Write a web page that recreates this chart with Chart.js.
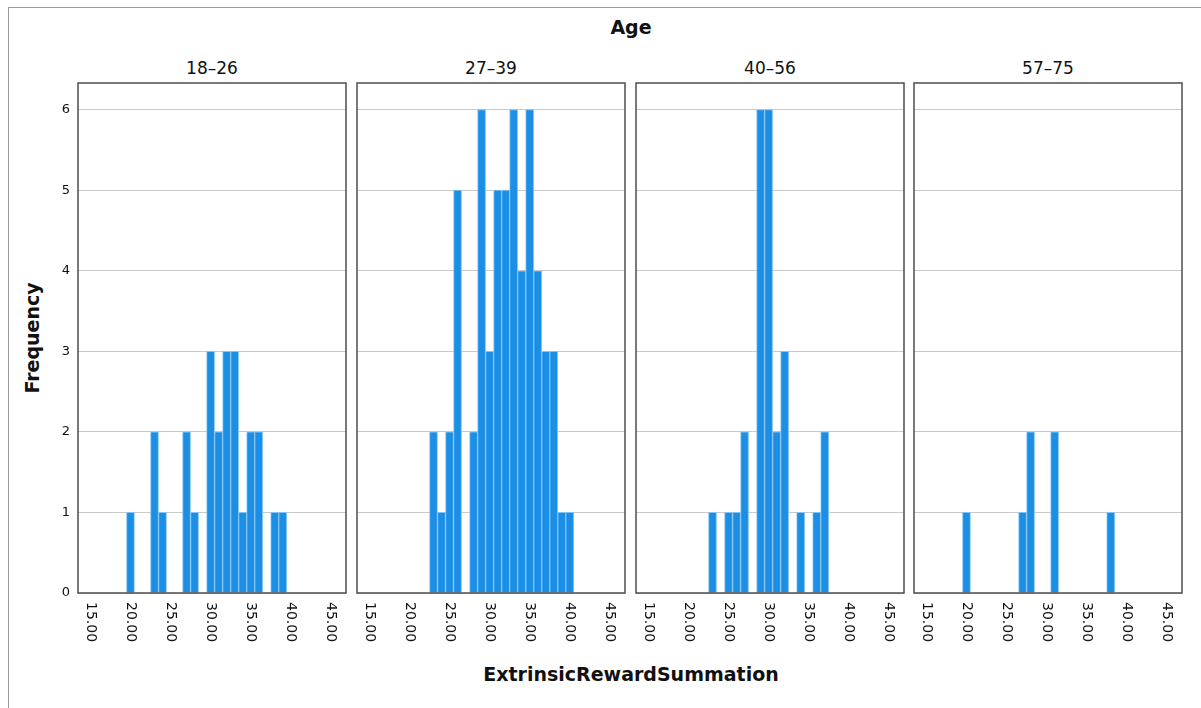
<!DOCTYPE html>
<html>
<head>
<meta charset="utf-8">
<script src="https://cdn.jsdelivr.net/npm/chart.js@4.4.1/dist/chart.umd.min.js"></script>
<style>
  html, body { margin: 0; padding: 0; background: #fff; overflow: hidden; }
  body { width: 1201px; height: 708px; position: relative; font-family: "DejaVu Sans", sans-serif; }
  .frame { position: absolute; left: 8px; top: 7px; width: 1400px; height: 900px; border-left: 1px solid #9a9a9a; border-top: 1px solid #9a9a9a; }
  .title { position: absolute; font-weight: bold; font-size: 19px; color: #111; white-space: nowrap; }
  .ptitle { position: absolute; font-size: 17px; color: #111; white-space: nowrap; transform: translateX(-50%); }
  .panel { position: absolute; }
</style>
</head>
<body>
<div class="frame"></div>
<div class="title" id="topTitle" style="left:631px; top:16px; transform:translateX(-50%);">Age</div>
<div class="title" id="yTitle" style="left:32px; top:338px; transform:translate(-50%,-50%) rotate(-90deg);">Frequency</div>
<div class="title" id="xTitle" style="left:631px; top:663px; transform:translateX(-50%);">ExtrinsicRewardSummation</div>

<script>
// ---- data ----
const panelLabels = ['18–26', '27–39', '40–56', '57–75'];

const score18to26 = [20, 23, 24, 27, 28, 30, 31, 32, 33, 34, 35, 36, 38, 39];
const freq18to26  = [1, 2, 1, 2, 1, 3, 2, 3, 3, 1, 2, 2, 1, 1];

const score27to39 = [23, 24, 25, 26, 28, 29, 30, 31, 32, 33, 34, 35, 36, 37, 38, 39, 40];
const freq27to39  = [2, 1, 2, 5, 2, 6, 3, 5, 5, 6, 4, 6, 4, 3, 3, 1, 1];

const score40to56 = [23, 25, 26, 27, 29, 30, 31, 32, 34, 36, 37];
const freq40to56  = [1, 1, 1, 2, 6, 6, 2, 3, 1, 1, 2];

const score57to75 = [20, 27, 28, 31, 38];
const freq57to75  = [1, 1, 2, 2, 1];

const xTickValues = [15, 20, 25, 30, 35, 40, 45];
const yTickValues = [0, 1, 2, 3, 4, 5, 6];

const panelScores = [score18to26, score27to39, score40to56, score57to75];
const panelFreqs  = [freq18to26, freq27to39, freq40to56, freq57to75];

// ---- layout ----
const panelLefts = [78, 357, 636, 914];
const panelWidth = 268;
const panelTop = 83;
const panelHeight = 510;
const padL = 50, padR = 10, padT = 43, padB = 70;

const framePlugin = {
  id: 'framePlugin',
  afterDraw(chart) {
    const { ctx, chartArea: a } = chart;
    const xs = chart.scales.x;
    const ys = chart.scales.y;
    ctx.save();
    ctx.strokeStyle = '#4d4d4d';
    ctx.lineWidth = 1.5;
    ctx.strokeRect(a.left, a.top, a.right - a.left, a.bottom - a.top);
    ctx.fillStyle = '#111';
    ctx.font = '14px "DejaVu Sans"';
    ctx.textAlign = 'left';
    ctx.textBaseline = 'middle';
    xTickValues.forEach(v => {
      const px = xs.getPixelForValue(v);
      ctx.save();
      ctx.translate(px, a.bottom + 9);
      ctx.rotate(Math.PI / 2);
      ctx.fillText(v.toFixed(2), 0, 0);
      ctx.restore();
    });
    if (chart.$showYLabels) {
      ctx.font = '13px "DejaVu Sans"';
      ctx.textAlign = 'right';
      ctx.textBaseline = 'middle';
      yTickValues.forEach(v => {
        ctx.fillText(String(v), a.left - 8, ys.getPixelForValue(v));
      });
    }
    ctx.restore();
  }
};

panelLabels.forEach((label, i) => {
  const t = document.createElement('div');
  t.className = 'ptitle';
  t.textContent = label;
  t.style.left = (panelLefts[i] + panelWidth / 2) + 'px';
  t.style.top = '58px';
  document.body.appendChild(t);

  const wrap = document.createElement('div');
  wrap.className = 'panel';
  wrap.style.left = (panelLefts[i] - padL) + 'px';
  wrap.style.top = (panelTop - padT) + 'px';
  wrap.style.width = (panelWidth + padL + padR) + 'px';
  wrap.style.height = (panelHeight + padT + padB) + 'px';
  const cv = document.createElement('canvas');
  wrap.appendChild(cv);
  document.body.appendChild(wrap);

  const pts = panelScores[i].map((s, k) => ({ x: s, y: panelFreqs[i][k] }));

  const ch = new Chart(cv, {
    type: 'bar',
    data: {
      datasets: [{
        data: pts,
        backgroundColor: '#1a8fe5',
        borderColor: '#86c3f1',
        borderWidth: 1,
        borderSkipped: 'bottom',
        barPercentage: 1.0,
        categoryPercentage: 1.0
      }]
    },
    options: {
      responsive: true,
      maintainAspectRatio: false,
      animation: false,
      layout: { padding: { left: padL, right: padR, top: padT, bottom: padB } },
      plugins: { legend: { display: false }, tooltip: { enabled: false }, title: { display: false } },
      scales: {
        x: {
          type: 'linear',
          offset: false,
          min: 13.45,
          max: 46.9,
          grid: { display: false, drawTicks: false, offset: false },
          border: { display: false },
          ticks: { display: false, stepSize: 5, includeBounds: false },
          afterFit(s) { s.height = 0; }
        },
        y: {
          type: 'linear',
          min: 0,
          max: 6.33,
          grid: { color: '#c9c9c9', lineWidth: 1, drawTicks: false },
          border: { display: false },
          ticks: { display: false, stepSize: 1, includeBounds: false },
          afterFit(s) { s.width = 0; }
        }
      }
    },
    plugins: [framePlugin]
  });
  ch.$showYLabels = (i === 0);
  ch.update();
});
</script>
</body>
</html>
